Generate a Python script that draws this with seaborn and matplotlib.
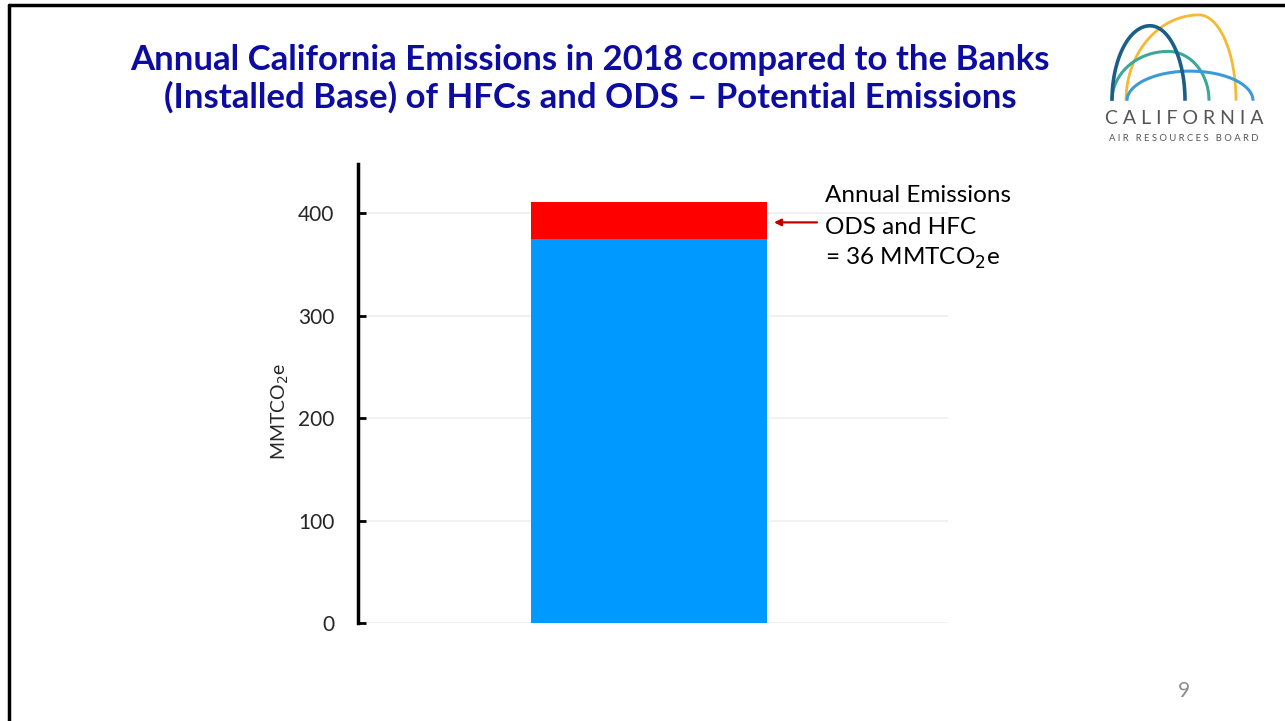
import matplotlib
matplotlib.use("Agg")
import matplotlib.pyplot as plt
import seaborn as sns
import pandas as pd
import numpy as np
from matplotlib.lines import Line2D

# ---- data ----
categories = ["2018"]
bank_values = [375]        # installed base (blue)
emission_values = [36]     # annual emissions ODS and HFC (red)
y_ticks = [0, 100, 200, 300, 400]

sns.set_theme(style="white")
plt.rcParams["font.family"] = ["Lato", "DejaVu Sans"]

df = pd.DataFrame({
    "cat": categories,
    "bank": bank_values,
    "emis": emission_values,
})
df["total"] = df["bank"] + df["emis"]

W, H = 1285, 721
fig = plt.figure(figsize=(W / 100, H / 100), dpi=100)
fig.patch.set_facecolor("white")


def px(x, y):
    return x / W, 1 - y / H


ax = fig.add_axes([358 / W, 1 - 623 / H, 590 / W, (623 - 164) / H])
sns.barplot(data=df, x="cat", y="total", color="#ff0000", width=0.4,
            saturation=1, ax=ax, zorder=3, linewidth=0, edgecolor="none")
sns.barplot(data=df, x="cat", y="bank", color="#0099ff", width=0.4,
            saturation=1, ax=ax, zorder=3, linewidth=0, edgecolor="none")

ax.set_xlim(-0.493, 0.507)
ax.set_ylim(0, 448)
ax.set_yticks(y_ticks)
ax.set_yticklabels([str(t) for t in y_ticks], fontsize=15)
ax.set_xticks([])
ax.set_xlabel("")
ax.set_ylabel("MMTCO$_2$e", fontsize=14)
ax.yaxis.set_label_coords(-0.114, 0.462)
ax.yaxis.grid(True, color="#efefef", lw=1.2, zorder=0)
ax.set_axisbelow(True)
for s in ["top", "right", "bottom"]:
    ax.spines[s].set_visible(False)
ax.spines["left"].set_color("black")
ax.spines["left"].set_linewidth(2.5)
ax.tick_params(axis="y", direction="in", length=6, width=2, color="black",
               left=True, pad=17)

# annotation arrow
ax.annotate("", xy=(0.212, 391), xytext=(0.285, 391),
            arrowprops=dict(arrowstyle="-|>", color="#c00000", lw=1.6,
                            mutation_scale=10, shrinkA=0, shrinkB=0))
ann_lines = ["Annual Emissions", "ODS and HFC", "= 36 MMTCO$_2$e"]
ann_base = [202, 234, 265]
for t, yb in zip(ann_lines, ann_base):
    fig.text(*px(825, yb), t, fontsize=17.5, va="baseline", ha="left",
             color="black")

# title
fig.text(*px(590, 70),
         "Annual California Emissions in 2018 compared to the Banks",
         ha="center", va="baseline", fontsize=25, fontweight="bold",
         color="#0c0ca0")
fig.text(*px(590, 108),
         "(Installed Base) of HFCs and ODS \u2013 Potential Emissions",
         ha="center", va="baseline", fontsize=25, fontweight="bold",
         color="#0c0ca0")

# page number
fig.text(*px(1184, 691), "9", ha="center", va="center",
         fontsize=15, color="#8c8c8c")

# slide border
fig.add_artist(Line2D([9 / W, 9 / W], [0, 1 - 5 / H], color="black", lw=2.5,
                      transform=fig.transFigure))
fig.add_artist(Line2D([9 / W, 1], [1 - 5 / H, 1 - 5 / H], color="black", lw=2.5,
                      transform=fig.transFigure))

# logo (decorative)
lax = fig.add_axes([1060 / W, 1 - 150 / H, 225 / W, 140 / H])
lax.set_xlim(1060, 1285)
lax.set_ylim(150, 8)
lax.axis("off")

t = np.linspace(0, np.pi / 2, 60)


def arch(x0, xp, yp, x1, yb, color, lw):
    xl = xp - (xp - x0) * np.cos(t)
    yl = yb - (yb - yp) * np.sin(t)
    xr = xp + (x1 - xp) * np.cos(t[::-1])
    yr = yb - (yb - yp) * np.sin(t[::-1])
    lax.plot(np.r_[xl, xr], np.r_[yl, yr], color=color, lw=lw,
             solid_capstyle="butt")


arch(1126, 1199, 13, 1236, 100, "#f6b933", 2.0)
arch(1112, 1168, 50, 1209, 100, "#3aa99b", 2.2)
arch(1127, 1190, 70, 1253, 100, "#3b9ad8", 2.2)
arch(1112, 1150, 24, 1185, 100, "#1b5e88", 2.6)

lax.text(1184, 118, "C A L I F O R N I A", ha="center", va="center",
         fontsize=14, color="#555555")
lax.text(1184, 138, "A I R   R E S O U R C E S   B O A R D", ha="center",
         va="center", fontsize=6.8, color="#555555")

fig.savefig("out.png", dpi=100)
